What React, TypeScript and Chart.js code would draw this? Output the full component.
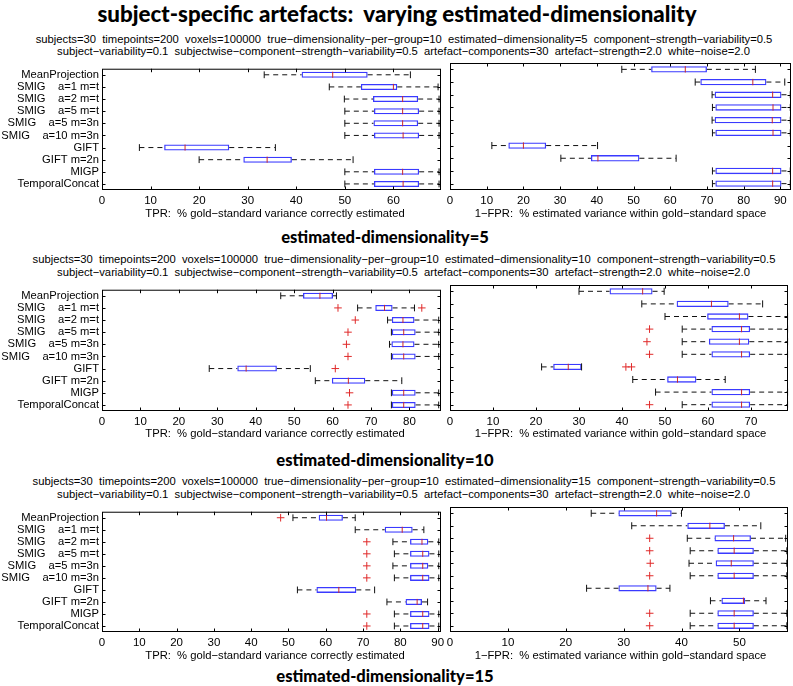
import React, { useEffect, useRef } from "react";
import { Chart, registerables } from "chart.js";

Chart.register(...registerables);

// ---------------- data ----------------
const methods = [
  "MeanProjection",
  "SMIG    a=1 m=t",
  "SMIG    a=2 m=t",
  "SMIG    a=5 m=t",
  "SMIG    a=5 m=3n",
  "SMIG    a=10 m=3n",
  "GIFT",
  "GIFT m=2n",
  "MIGP",
  "TemporalConcat",
];

const estimatedDims = ["5", "10", "15"];

// estimated-dimensionality = 5, TPR
const d5TprLow = [33.4, 46.8, 49.9, 50.0, 50.0, 50.0, 7.7, 20.0, 50.0, 50.0];
const d5TprQ1 = [41.1, 53.3, 55.8, 56.0, 55.9, 56.0, 12.8, 29.1, 56.0, 56.0];
const d5TprMed = [47.5, 60.0, 61.9, 61.9, 61.9, 62.0, 17.1, 34.0, 61.9, 62.0];
const d5TprQ3 = [54.7, 60.8, 65.1, 65.3, 65.1, 65.3, 26.2, 39.1, 65.3, 65.3];
const d5TprHigh = [63.5, 69.2, 69.4, 69.4, 69.4, 69.4, 35.7, 51.7, 69.4, 69.4];
const d5TprOutliers: [number, number][] = [];
const d5TprMax = 69.8;
const d5TprTicks = [0, 10, 20, 30, 40, 50, 60];

// estimated-dimensionality = 5, 1-FPR
const d5FprLow = [46.8, 66.8, 71.4, 71.5, 71.4, 71.5, 11.4, 30.2, 71.5, 71.5];
const d5FprQ1 = [54.8, 68.2, 72.1, 72.3, 72.1, 72.3, 15.9, 38.4, 72.3, 72.3];
const d5FprMed = [64.1, 82.5, 87.9, 88.0, 87.8, 88.0, 20.0, 40.3, 87.9, 87.9];
const d5FprQ3 = [70.0, 86.2, 90.3, 90.3, 90.3, 90.3, 26.2, 51.6, 90.3, 90.3];
const d5FprHigh = [83.2, 91.2, 92.7, 92.7, 92.7, 92.7, 40.2, 61.6, 92.7, 92.7];
const d5FprOutliers: [number, number][] = [];
const d5FprMax = 92.9;
const d5FprTicks = [0, 10, 20, 30, 40, 50, 60, 70, 80, 90];

// estimated-dimensionality = 10, TPR
const d10TprLow = [46.5, 66.5, 74.3, 75.3, 74.8, 75.3, 27.9, 55.5, 75.3, 75.3];
const d10TprQ1 = [52.3, 71.1, 75.4, 75.4, 75.3, 75.4, 35.2, 59.8, 75.4, 75.4];
const d10TprMed = [56.7, 73.5, 78.3, 78.5, 78.3, 78.5, 37.5, 64.1, 78.5, 78.5];
const d10TprQ3 = [60.1, 75.6, 81.3, 81.6, 81.3, 81.6, 45.5, 68.5, 81.6, 81.6];
const d10TprHigh = [61.0, 81.3, 87.6, 87.6, 87.6, 87.6, 54.2, 78.0, 87.6, 87.6];
// [method index, value]
const d10TprOutliers: [number, number][] = [
  [1, 61.4],
  [1, 83.2],
  [2, 65.9],
  [3, 64.0],
  [4, 63.6],
  [5, 64.0],
  [6, 60.7],
  [8, 64.4],
  [9, 64.0],
];
const d10TprMax = 88.2;
const d10TprTicks = [0, 10, 20, 30, 40, 50, 60, 70, 80];

// estimated-dimensionality = 10, 1-FPR
const d10FprLow = [30.0, 44.6, 50.0, 54.0, 54.0, 54.0, 21.3, 42.5, 47.8, 54.0];
const d10FprQ1 = [37.1, 52.7, 59.8, 60.8, 60.2, 60.8, 24.0, 50.5, 60.8, 60.8];
const d10FprMed = [44.8, 60.8, 67.3, 67.8, 67.3, 67.8, 27.5, 52.9, 67.8, 67.8];
const d10FprQ3 = [47.1, 64.8, 69.4, 69.8, 69.6, 69.8, 30.6, 57.3, 69.8, 69.8];
const d10FprHigh = [49.8, 72.7, 78.5, 78.5, 78.5, 78.5, 30.6, 64.0, 78.5, 78.5];
const d10FprOutliers: [number, number][] = [
  [3, 46.4],
  [4, 45.8],
  [5, 46.4],
  [6, 40.9],
  [6, 42.2],
  [9, 46.4],
];
const d10FprMax = 78.6;
const d10FprTicks = [0, 10, 20, 30, 40, 50, 60, 70];

// estimated-dimensionality = 15, TPR
const d15TprLow = [51.2, 67.9, 78.0, 78.4, 78.0, 78.4, 52.4, 76.4, 78.4, 78.4];
const d15TprQ1 = [58.1, 75.8, 82.6, 82.6, 82.6, 82.6, 57.5, 81.4, 82.6, 82.6];
const d15TprMed = [60.2, 80.5, 85.8, 86.0, 86.0, 86.0, 63.5, 84.5, 86.0, 86.0];
const d15TprQ3 = [64.6, 83.3, 87.5, 87.8, 87.5, 87.8, 68.2, 85.8, 87.8, 87.8];
const d15TprHigh = [67.9, 86.3, 90.3, 90.3, 90.3, 90.3, 73.1, 87.3, 90.3, 90.3];
const d15TprOutliers: [number, number][] = [
  [0, 47.9],
  [2, 71.0],
  [3, 71.0],
  [4, 71.0],
  [5, 71.0],
  [8, 71.0],
  [9, 71.0],
];
const d15TprMax = 90.9;
const d15TprTicks = [0, 10, 20, 30, 40, 50, 60, 70, 80, 90];

// estimated-dimensionality = 15, 1-FPR
const d15FprLow = [24.4, 31.4, 41.0, 41.5, 41.3, 41.5, 23.6, 45.0, 41.5, 41.5];
const d15FprQ1 = [29.1, 41.0, 45.7, 46.2, 45.9, 46.2, 29.1, 46.9, 46.2, 46.2];
const d15FprMed = [35.7, 44.9, 49.0, 49.1, 48.6, 49.1, 34.2, 50.7, 49.1, 49.1];
const d15FprQ3 = [38.3, 47.5, 52.0, 52.5, 52.5, 52.5, 35.7, 51.0, 52.5, 52.5];
const d15FprHigh = [40.0, 53.7, 58.0, 58.2, 58.2, 58.2, 38.0, 54.6, 58.2, 58.2];
const d15FprOutliers: [number, number][] = [
  [2, 34.5],
  [3, 34.5],
  [4, 34.6],
  [5, 34.5],
  [8, 34.5],
  [9, 34.5],
];
const d15FprMax = 58.4;
const d15FprTicks = [0, 10, 20, 30, 40, 50];

const titleText = "subject-specific artefacts:  varying estimated-dimensionality";
const paramLine1 = (d: string) =>
  `subjects=30  timepoints=200  voxels=100000  true\u2212dimensionality\u2212per\u2212group=10  estimated\u2212dimensionality=${d}  component\u2212strength\u2212variability=0.5`;
const paramLine2 =
  "subject\u2212variability=0.1  subjectwise\u2212component\u2212strength\u2212variability=0.5  artefact\u2212components=30  artefact\u2212strength=2.0  white\u2212noise=2.0";
const tprLabel = "TPR:  % gold\u2212standard variance correctly estimated";
const fprLabel = "1\u2212FPR:  % estimated variance within gold\u2212standard space";

// ---------------- styling ----------------
const FONT = '"Liberation Sans", Arial, Helvetica, sans-serif';
const TITLE_FONT = 'Lato, "Open Sans", sans-serif';
const BOX_COLOR = "#3a3aff";
const MED_COLOR = "#cc2a2a";
const OUT_COLOR = "#e02a2a";
const WHISKER_COLOR = "#111";

function fitSize(text: string, target: number, family: string, weight: string) {
  const c = document.createElement("canvas").getContext("2d");
  if (!c) return 12;
  c.font = `${weight} 100px ${family}`;
  const w = c.measureText(text).width;
  return w > 0 ? (100 * target) / w : 12;
}

type PanelProps = {
  low: number[];
  q1: number[];
  med: number[];
  q3: number[];
  high: number[];
  outliers: [number, number][];
  xMax: number;
  xTicks: number[];
  side: "left" | "right";
  plotTop: number;
  plotBottom: number;
};

function BoxPanel(p: PanelProps) {
  const ref = useRef<HTMLCanvasElement | null>(null);
  const isLeft = p.side === "left";
  const padTop = 4;
  const axisH = 22;
  const canvasLeft = isLeft ? 0 : 440;
  const canvasW = isLeft ? 448 : 353;
  const padL = isLeft ? 0 : 10;
  const padR = isLeft ? 7 : 2;
  const yAxisW = isLeft ? 102 : 0;
  const canvasTop = p.plotTop - padTop;
  const canvasH = padTop + (p.plotBottom - p.plotTop) + axisH;

  useEffect(() => {
    const canvas = ref.current;
    if (!canvas) return;
    const boxPlugin = {
      id: "boxWhiskers",
      afterDatasetsDraw(chart: any) {
        const { ctx, chartArea: a, scales } = chart;
        const x = scales.x;
        const y = scales.y;
        const spacing = Math.abs(y.getPixelForValue(1) - y.getPixelForValue(0));
        const boxH = spacing * 0.5;
        const capH = spacing * 0.28;
        ctx.save();
        ctx.lineWidth = 1;
        for (let i = 0; i < methods.length; i++) {
          const py = y.getPixelForValue(i);
          const xl = x.getPixelForValue(p.low[i]);
          const x1 = x.getPixelForValue(p.q1[i]);
          const x3 = x.getPixelForValue(p.q3[i]);
          const xh = x.getPixelForValue(p.high[i]);
          ctx.strokeStyle = WHISKER_COLOR;
          ctx.setLineDash([5, 4]);
          ctx.beginPath();
          if (x1 - xl > 0.5) {
            ctx.moveTo(xl, py);
            ctx.lineTo(x1, py);
          }
          if (xh - x3 > 0.5) {
            ctx.moveTo(x3, py);
            ctx.lineTo(xh, py);
          }
          ctx.stroke();
          ctx.setLineDash([]);
          ctx.beginPath();
          ctx.moveTo(xl, py - capH);
          ctx.lineTo(xl, py + capH);
          ctx.moveTo(xh, py - capH);
          ctx.lineTo(xh, py + capH);
          ctx.stroke();
          const xm = x.getPixelForValue(p.med[i]);
          ctx.strokeStyle = MED_COLOR;
          ctx.beginPath();
          ctx.moveTo(xm, py - boxH / 2);
          ctx.lineTo(xm, py + boxH / 2);
          ctx.stroke();
        }
        // frame
        ctx.strokeStyle = "#000";
        ctx.strokeRect(a.left + 0.5, a.top + 0.5, a.right - a.left - 1, a.bottom - a.top - 1);
        // inward ticks
        const tl = 3.5;
        ctx.beginPath();
        for (const t of x.ticks) {
          const px = Math.round(x.getPixelForValue(t.value)) + 0.5;
          if (px <= a.left + 1 || px >= a.right - 1) continue;
          ctx.moveTo(px, a.bottom);
          ctx.lineTo(px, a.bottom - tl);
          ctx.moveTo(px, a.top);
          ctx.lineTo(px, a.top + tl);
        }
        for (let i = 0; i < methods.length; i++) {
          const py = Math.round(y.getPixelForValue(i)) + 0.5;
          ctx.moveTo(a.left, py);
          ctx.lineTo(a.left + tl, py);
          ctx.moveTo(a.right, py);
          ctx.lineTo(a.right - tl, py);
        }
        ctx.stroke();
        ctx.restore();
      },
    };

    const chart = new Chart(canvas, {
      type: "bar",
      data: {
        labels: methods,
        datasets: [
          {
            type: "bar",
            data: p.q1.map((v, i) => [v, p.q3[i]]),
            backgroundColor: "rgba(255,255,255,0)",
            borderColor: BOX_COLOR,
            borderWidth: 1.3,
            borderSkipped: false,
            barPercentage: 0.5,
            categoryPercentage: 1,
          } as any,
          {
            type: "scatter",
            data: p.outliers.map(([c, v]) => ({ x: v, y: methods[c] })),
            pointStyle: "cross",
            pointRadius: 3.8,
            borderColor: OUT_COLOR,
            backgroundColor: OUT_COLOR,
            borderWidth: 1,
          } as any,
        ],
      },
      options: {
        indexAxis: "y",
        animation: false,
        responsive: false,
        maintainAspectRatio: false,
        events: [],
        layout: { padding: { top: padTop, right: padR, bottom: 0, left: padL } },
        plugins: { legend: { display: false }, tooltip: { enabled: false } },
        scales: {
          x: {
            type: "linear",
            position: "bottom",
            min: 0,
            max: p.xMax,
            afterBuildTicks: (s: any) => {
              s.ticks = p.xTicks.map((v) => ({ value: v }));
            },
            afterFit: (s: any) => {
              s.height = axisH;
            },
            grid: { display: false, drawTicks: false },
            border: { display: false },
            ticks: {
              color: "#000",
              font: { family: FONT, size: 11.5 },
              padding: 3.5,
              maxRotation: 0,
              autoSkip: false,
            },
          },
          y: {
            type: "category",
            position: "left",
            offset: true,
            afterFit: (s: any) => {
              s.width = yAxisW;
            },
            grid: { display: false, drawTicks: false },
            border: { display: false },
            ticks: {
              display: isLeft,
              color: "#000",
              font: { family: FONT, size: 11.2 },
              padding: 3,
              autoSkip: false,
            },
          },
        },
      } as any,
      plugins: [boxPlugin],
    });
    return () => chart.destroy();
  }, []);

  return (
    <canvas
      ref={ref}
      width={canvasW}
      height={canvasH}
      style={{ position: "absolute", left: canvasLeft, top: canvasTop, width: canvasW, height: canvasH }}
    />
  );
}

function Txt(props: { text: string; cx: number; cy: number; size: number; family: string; weight?: string }) {
  return (
    <span
      style={{
        position: "absolute",
        left: props.cx,
        top: props.cy,
        transform: "translate(-50%, -50%)",
        whiteSpace: "pre",
        fontFamily: props.family,
        fontWeight: props.weight || "normal",
        fontSize: props.size,
        lineHeight: 1,
        color: "#000",
      }}
    >
      {props.text}
    </span>
  );
}

const rowGeom = [
  { plotTop: 63, plotBottom: 190, p1y: 39.5, p2y: 51.7, xlabY: 214.3, subY: 236.5 },
  { plotTop: 284, plotBottom: 411, p1y: 260, p2y: 273.3, xlabY: 434.3, subY: 459.5 },
  { plotTop: 506, plotBottom: 632, p1y: 482, p2y: 495, xlabY: 655.7, subY: 675.5 },
];

export default function App() {
  const titleSize = fitSize(titleText, 600, TITLE_FONT, "900");
  const paramSize = fitSize(paramLine1("5"), 738, FONT, "normal");
  const subSize = fitSize("estimated-dimensionality=5", 208, TITLE_FONT, "900");
  const xlabSize = fitSize(fprLabel, 292, FONT, "normal");

  const panels = [
    {
      tpr: { low: d5TprLow, q1: d5TprQ1, med: d5TprMed, q3: d5TprQ3, high: d5TprHigh, outliers: d5TprOutliers, xMax: d5TprMax, xTicks: d5TprTicks },
      fpr: { low: d5FprLow, q1: d5FprQ1, med: d5FprMed, q3: d5FprQ3, high: d5FprHigh, outliers: d5FprOutliers, xMax: d5FprMax, xTicks: d5FprTicks },
    },
    {
      tpr: { low: d10TprLow, q1: d10TprQ1, med: d10TprMed, q3: d10TprQ3, high: d10TprHigh, outliers: d10TprOutliers, xMax: d10TprMax, xTicks: d10TprTicks },
      fpr: { low: d10FprLow, q1: d10FprQ1, med: d10FprMed, q3: d10FprQ3, high: d10FprHigh, outliers: d10FprOutliers, xMax: d10FprMax, xTicks: d10FprTicks },
    },
    {
      tpr: { low: d15TprLow, q1: d15TprQ1, med: d15TprMed, q3: d15TprQ3, high: d15TprHigh, outliers: d15TprOutliers, xMax: d15TprMax, xTicks: d15TprTicks },
      fpr: { low: d15FprLow, q1: d15FprQ1, med: d15FprMed, q3: d15FprQ3, high: d15FprHigh, outliers: d15FprOutliers, xMax: d15FprMax, xTicks: d15FprTicks },
    },
  ];

  return (
    <div style={{ position: "absolute", left: 0, top: 0, width: 793, height: 686, background: "#fff", overflow: "hidden" }}>
      <Txt text={titleText} cx={397} cy={14} size={titleSize} family={TITLE_FONT} weight="900" />
      {estimatedDims.map((d, r) => {
        const g = rowGeom[r];
        return (
          <React.Fragment key={d}>
            <Txt text={paramLine1(d)} cx={404} cy={g.p1y} size={paramSize} family={FONT} />
            <Txt text={paramLine2} cx={403.5} cy={g.p2y} size={paramSize} family={FONT} />
            <BoxPanel {...panels[r].tpr} side="left" plotTop={g.plotTop} plotBottom={g.plotBottom} />
            <BoxPanel {...panels[r].fpr} side="right" plotTop={g.plotTop} plotBottom={g.plotBottom} />
            <Txt text={tprLabel} cx={275} cy={g.xlabY} size={xlabSize} family={FONT} />
            <Txt text={fprLabel} cx={620.5} cy={g.xlabY} size={xlabSize} family={FONT} />
            <Txt text={`estimated-dimensionality=${d}`} cx={385} cy={g.subY} size={subSize} family={TITLE_FONT} weight="900" />
          </React.Fragment>
        );
      })}
    </div>
  );
}
